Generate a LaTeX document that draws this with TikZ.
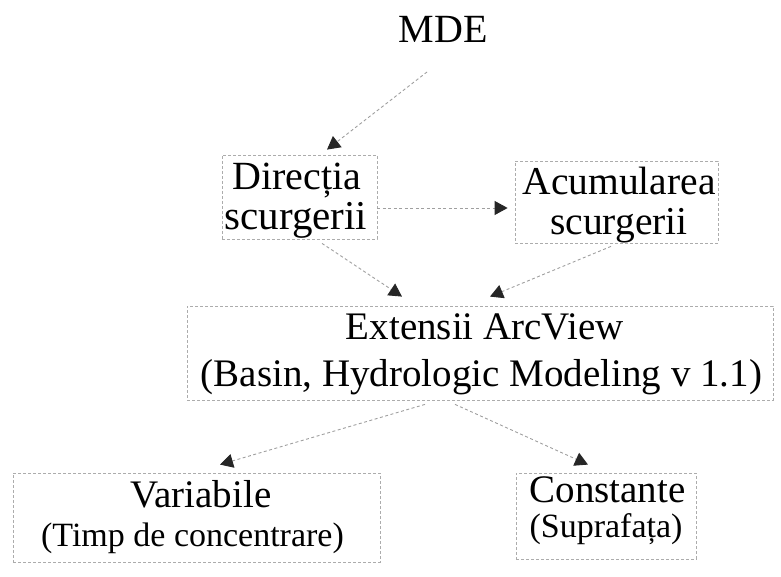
\documentclass[tikz,border=0pt]{standalone}
\usepackage{fontspec}
\setmainfont{Liberation Serif}
\usetikzlibrary{arrows.meta,calc}
\tikzset{
  box/.style={draw=gray!65, densely dashed, line width=0.8pt, inner sep=0pt},
  txt/.style={anchor=base, inner sep=0pt},
  conn/.style={draw=gray!75, dash pattern=on 3pt off 2.5pt, line width=0.9pt,
    -{Triangle[length=13pt,width=14pt,color=black!85]}},
}
\begin{document}
\begin{tikzpicture}[x=1pt,y=1pt]
\useasboundingbox (0,0) rectangle (781,577);
% boxes
\node[box, minimum width=155pt, minimum height=84pt] (dir) at (299.5,380) {};
\node[box, minimum width=203pt, minimum height=82pt] (acu) at (616.5,375) {};
\node[box, minimum width=586pt, minimum height=94pt] (ext) at (480,224) {};
\node[box, minimum width=367pt, minimum height=89pt] (var) at (196.5,59.5) {};
\node[box, minimum width=180pt, minimum height=86pt] (con) at (606,61) {};
% texts
\node[txt, font=\fontsize{40}{40}\selectfont] (mde) at (443,534) {MDE};
\node[txt, font=\fontsize{40}{40}\selectfont] (dir1) at (297,387) {Direcția};
\node[txt, font=\fontsize{41}{41}\selectfont] (dir2) at (296,347) {scurgerii};
\node[txt, font=\fontsize{39.5}{40}\selectfont] (acu1) at (619,382) {Acumularea};
\node[txt, font=\fontsize{39.5}{40}\selectfont] (acu2) at (619,342.5) {scurgerii};
\node[txt, font=\fontsize{39}{39}\selectfont] (ext1) at (485,237) {Extensii ArcView};
\node[txt, font=\fontsize{39}{39}\selectfont] (ext2) at (481.5,190) {(Basin, Hydrologic Modeling v 1.1)};
\node[txt, font=\fontsize{39}{39}\selectfont] (var1) at (201,69) {Variabile};
\node[txt, font=\fontsize{34}{34}\selectfont] (var2) at (192.5,30) {(Timp de concentrare)};
\node[txt, font=\fontsize{39}{39}\selectfont] (con1) at (607.5,74) {Constante};
\node[txt, font=\fontsize{34}{34}\selectfont] (con2) at (606,39) {(Suprafața)};
% connectors
\draw[conn] ($(mde.base)+(-16,-29)$) -- ($(dir.north)+(27.5,5)$);
\draw[conn] ($(dir.east)+(0,-11)$) -- ($(acu.west)+(-7,-6)$);
\draw[conn] ($(dir.south)+(22.5,-4)$) -- ($(ext.north)+(-78,9)$);
\draw[conn] ($(acu.south)+(-5.5,-3)$) -- ($(ext.north)+(10,9)$);
\draw[conn] ($(ext.south)+(-55,-4)$) -- ($(var.north)+(23.5,8)$);
\draw[conn] ($(ext.south)+(-25,-4)$) -- ($(con.north)+(-18,8)$);
\end{tikzpicture}
\end{document}
